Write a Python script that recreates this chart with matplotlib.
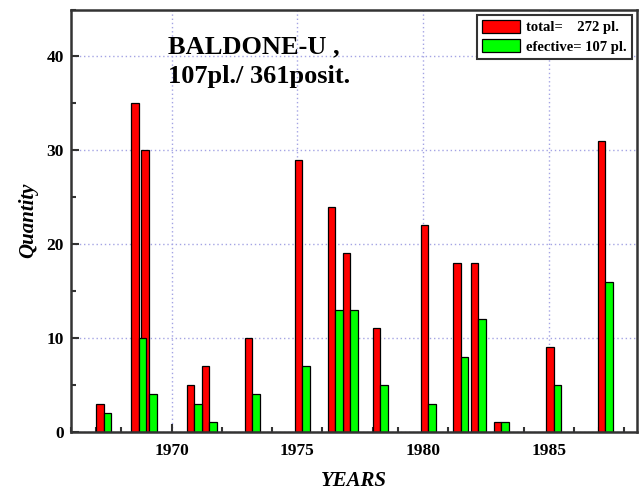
import numpy as np
import matplotlib
matplotlib.use('Agg')
import matplotlib.pyplot as plt
import matplotlib as mpl
from matplotlib.ticker import MultipleLocator

mpl.rcParams['font.family'] = 'Liberation Serif'
mpl.rcParams['font.weight'] = 'bold'

# group positions (years) and counts
years = [1967.3, 1968.7, 1969.1, 1970.9, 1971.5, 1973.2, 1975.2, 1976.5,
         1977.1, 1978.3, 1980.2, 1981.5, 1982.2, 1983.1, 1985.2, 1987.25]
total = [3, 35, 30, 5, 7, 10, 29, 24, 19, 11, 22, 18, 18, 1, 9, 31]
efective = [2, 10, 4, 3, 1, 4, 7, 13, 13, 5, 3, 8, 12, 1, 5, 16]

lbl_total = 'total=    272 pl.'
lbl_eff = 'efective= 107 pl.'

x = np.array(years)
w = 0.3

fig = plt.figure(figsize=(6.42, 4.90), dpi=100)
ax = fig.add_axes([0.1106, 0.119, 0.8814, 0.8616])
ax.set_axisbelow(True)

ax.bar(x - w / 2, total, w, color='#ff0000', edgecolor='black', linewidth=0.9,
       label=lbl_total)
ax.bar(x + w / 2, efective, w, color='#00ff00', edgecolor='black', linewidth=0.9,
       label=lbl_eff)

ax.set_xlim(1966, 1988.5)
ax.set_ylim(0, 45)
ax.xaxis.set_major_locator(MultipleLocator(5))
ax.xaxis.set_minor_locator(MultipleLocator(1))
ax.yaxis.set_major_locator(MultipleLocator(10))
ax.yaxis.set_minor_locator(MultipleLocator(5))
ax.tick_params(which='major', direction='in', length=6, width=1.5,
               labelsize=12.5, color='#333333')
ax.tick_params(which='minor', direction='in', length=3.5, width=1.5,
               color='#333333')
ax.tick_params(axis='x', pad=8)
ax.tick_params(axis='y', pad=5)
for lab in ax.get_xticklabels() + ax.get_yticklabels():
    lab.set_fontweight('bold')

ax.grid(True, which='major', linestyle=(0, (1, 2)), color='#a4a4e4',
        linewidth=1.0)
for s in ax.spines.values():
    s.set_linewidth(1.8)
    s.set_color('#333333')

ax.set_xlabel('YEARS', fontsize=15, fontstyle='italic', fontweight='bold',
              labelpad=9)
ax.set_ylabel('Quantity', fontsize=15, fontstyle='italic', fontweight='bold',
              labelpad=6)

ax.text(0.172, 0.897, 'BALDONE-U ,', transform=ax.transAxes,
        fontsize=19, fontweight='bold', va='baseline', ha='left')
ax.text(0.172, 0.826, '107pl./ 361posit.', transform=ax.transAxes,
        fontsize=19, fontweight='bold', va='baseline', ha='left')

leg = ax.legend(loc='upper right', fontsize=10.5, frameon=True, fancybox=False,
                edgecolor='#333333', handlelength=2.6, handleheight=1.0,
                borderaxespad=0.35, labelspacing=0.35, handletextpad=0.4,
                borderpad=0.35)
leg.get_frame().set_linewidth(1.5)
leg.get_frame().set_alpha(1)

fig.savefig('out.png', dpi=100)
